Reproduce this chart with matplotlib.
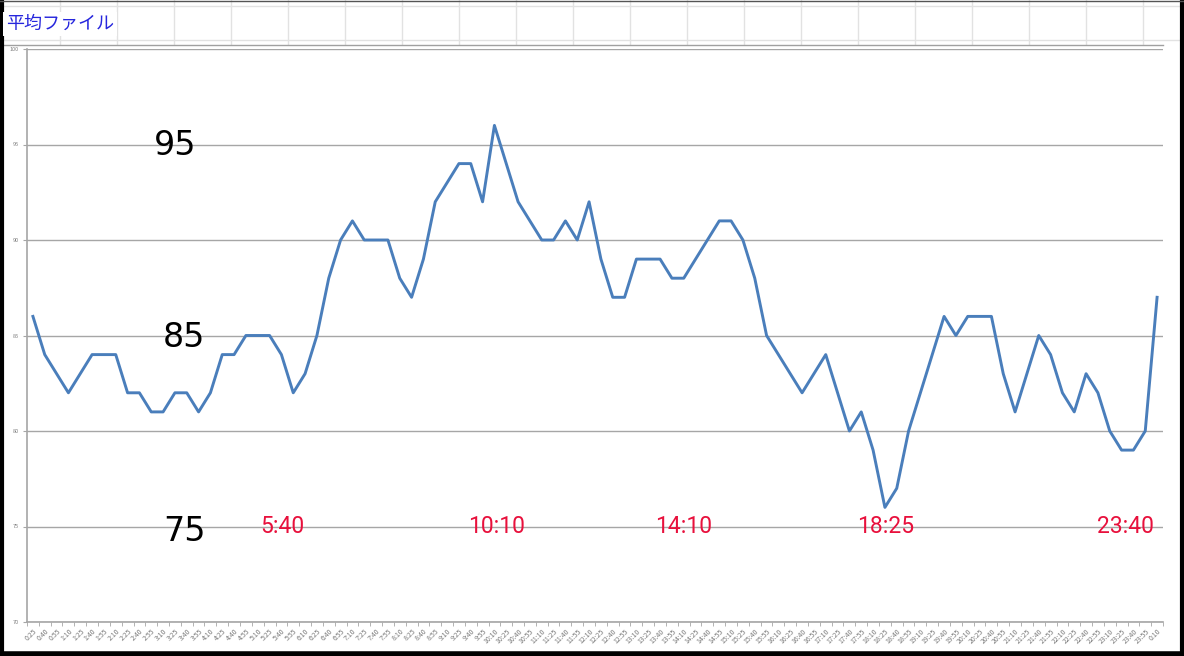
"""
plot.py
Average file chart (Excel screenshot style): 15-minute values over one day.
"""

import matplotlib
matplotlib.use("Agg")
import matplotlib.pyplot as plt
from matplotlib.ticker import FixedLocator

plt.rcParams["font.family"] = ["Noto Sans CJK JP", "DejaVu Sans"]

TITLE = "平均ファイル"

TIMES = [
    "0:25", "0:40", "0:55",
    "1:10", "1:25", "1:40", "1:55", "2:10", "2:25", "2:40", "2:55",
    "3:10", "3:25", "3:40", "3:55", "4:10", "4:25", "4:40", "4:55",
    "5:10", "5:25", "5:40", "5:55", "6:10", "6:25", "6:40", "6:55",
    "7:10", "7:25", "7:40", "7:55", "8:10", "8:25", "8:40", "8:55",
    "9:10", "9:25", "9:40", "9:55", "10:10", "10:25", "10:40", "10:55",
    "11:10", "11:25", "11:40", "11:55", "12:10", "12:25", "12:40", "12:55",
    "13:10", "13:25", "13:40", "13:55", "14:10", "14:25", "14:40", "14:55",
    "15:10", "15:25", "15:40", "15:55", "16:10", "16:25", "16:40", "16:55",
    "17:10", "17:25", "17:40", "17:55", "18:10", "18:25", "18:40", "18:55",
    "19:10", "19:25", "19:40", "19:55", "20:10", "20:25", "20:40", "20:55",
    "21:10", "21:25", "21:40", "21:55", "22:10", "22:25", "22:40", "22:55",
    "23:10", "23:25", "23:40", "23:55", "0:10",
]

VALUES = [
    86, 84, 83, 82, 83, 84, 84, 84, 82, 82, 81, 81, 82, 82, 81, 82,
    84, 84, 85, 85, 85, 84, 82, 83, 85, 88, 90, 91, 90, 90, 90, 88,
    87, 89, 92, 93, 94, 94, 92, 96, 94, 92, 91, 90, 90, 91, 90, 92,
    89, 87, 87, 89, 89, 89, 88, 88, 89, 90, 91, 91, 90, 88, 85, 84,
    83, 82, 83, 84, 82, 80, 81, 79, 76, 77, 80, 82, 84, 86, 85, 86,
    86, 86, 83, 81, 83, 85, 84, 82, 81, 83, 82, 80, 79, 79, 80, 87,
]

Y_TICKS = [70, 75, 80, 85, 90, 95, 100]

# big hand-written level marks and the highlighted times
LEVEL_MARKS = ["95", "85", "75"]
LEVEL_X = [12.0, 12.8, 12.85]
LEVEL_Y = [94.95, 84.9, 74.75]
HIGHLIGHT_TIMES = ["5:40", "10:10", "14:10", "18:25", "23:40"]
HIGHLIGHT_DX = [0.1, 0.15, 0.0, 0.05, -0.7]

W, H = 1184, 656
LINE_BLUE = "#4a7ebb"
GRID_GREY = "#a6a6a6"
CELL_GREY = "#e2e2e2"

fig = plt.figure(figsize=(W / 100, H / 100), dpi=100)
fig.patch.set_facecolor("white")

# background layer in pixel coordinates: spreadsheet cells + screenshot frame
bg = fig.add_axes([0, 0, 1, 1], zorder=0)
bg.set_xlim(0, W)
bg.set_ylim(H, 0)
bg.axis("off")
for yy in [6, 40]:
    bg.plot([0, W], [yy, yy], color=CELL_GREY, lw=1)
for xx in range(60, 1170, 57):
    bg.plot([xx, xx], [0, 44], color=CELL_GREY, lw=1)
bg.plot([0, 1163], [45, 45], color="#a0a0a0", lw=1)
bg.text(6, 24, TITLE, color="#2626dd", fontsize=13, va="center", ha="left",
        bbox=dict(facecolor="white", edgecolor="none", pad=2))
# black screenshot frame
bg.plot([1.5, 1.5], [0, H], color="black", lw=3)
bg.plot([W - 2, W - 2], [0, H], color="black", lw=3)
bg.plot([0, W], [H - 2, H - 2], color="black", lw=4)
bg.plot([0, W], [0.5, 0.5], color="#555555", lw=1)

# chart
ax = fig.add_axes([27 / W, (H - 622) / H, (1163 - 27) / W, (622 - 49) / H], zorder=1)
ax.patch.set_alpha(0)
x = list(range(len(VALUES)))
ax.plot(x, VALUES, color=LINE_BLUE, lw=2.1, solid_joinstyle="round", zorder=3)

ax.set_xlim(-0.5, len(VALUES) - 0.5)
ax.set_ylim(Y_TICKS[0], Y_TICKS[-1])
ax.set_yticks(Y_TICKS)
ax.set_yticklabels([str(t) for t in Y_TICKS], fontsize=4, color="#808080")
ax.yaxis.grid(True, color=GRID_GREY, lw=1)
ax.set_axisbelow(True)

ax.set_xticks(x)
ax.set_xticklabels(TIMES, fontsize=5, color="#7a7a7a", rotation=45,
                   ha="right", rotation_mode="anchor")
ax.tick_params(axis="x", which="major", length=0, pad=4)
ax.xaxis.set_minor_locator(FixedLocator([i - 0.5 for i in range(len(VALUES) + 1)]))
ax.tick_params(axis="x", which="minor", length=3, color=GRID_GREY, direction="out")
ax.tick_params(axis="y", length=3, color=GRID_GREY, pad=3)

for side in ["top", "right"]:
    ax.spines[side].set_visible(False)
ax.spines["left"].set_color(GRID_GREY)
ax.spines["bottom"].set_color(GRID_GREY)
ax.spines["left"].set_linewidth(1.2)
ax.spines["bottom"].set_linewidth(1.2)

for label, lx, ly in zip(LEVEL_MARKS, LEVEL_X, LEVEL_Y):
    ax.text(lx, ly, label, fontsize=24, color="black", ha="center", va="center",
            family=["DejaVu Sans"], zorder=4)

for t, dx in zip(HIGHLIGHT_TIMES, HIGHLIGHT_DX):
    ax.text(TIMES.index(t) + dx, 75, t, fontsize=16.5, color="#e8103c", ha="center",
            va="center", family=["Roboto", "DejaVu Sans"], zorder=4)

fig.savefig("out.png", dpi=100)
